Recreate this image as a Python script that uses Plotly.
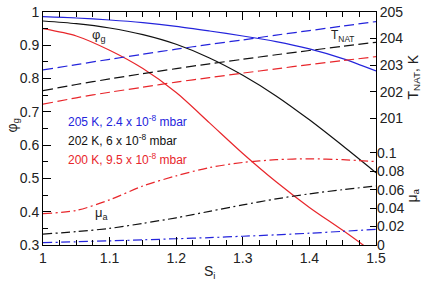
import plotly.graph_objects as go

# ---- data ----
S = [1.0, 1.05, 1.1, 1.15, 1.2, 1.25, 1.3, 1.35, 1.4, 1.45, 1.5]

# phi_g (left axis, solid)
phi_205 = [0.986, 0.982, 0.976, 0.968, 0.957, 0.943, 0.928, 0.911, 0.889, 0.860, 0.823]
phi_202 = [0.973, 0.965, 0.952, 0.932, 0.903, 0.862, 0.810, 0.748, 0.676, 0.598, 0.517]
phi_200 = [0.950, 0.928, 0.885, 0.830, 0.758, 0.667, 0.575, 0.490, 0.413, 0.344, 0.272]

# T_NAT (right axis, dashed)
T_205 = [202.82, 203.02, 203.22, 203.41, 203.60, 203.78, 203.95, 204.13, 204.30, 204.47, 204.64]
T_202 = [202.04, 202.27, 202.48, 202.68, 202.87, 203.05, 203.22, 203.39, 203.55, 203.71, 203.86]
T_200 = [201.53, 201.77, 201.98, 202.17, 202.36, 202.53, 202.70, 202.86, 203.02, 203.17, 203.32]

# mu_a (right axis, dash-dot)
mu_205 = [0.0025, 0.0035, 0.0045, 0.0056, 0.0068, 0.0080, 0.0095, 0.0110, 0.0128, 0.0148, 0.0170]
mu_202 = [0.0118, 0.0145, 0.0180, 0.0235, 0.0295, 0.0365, 0.0435, 0.0500, 0.0555, 0.0600, 0.0640]
mu_200 = [0.0340, 0.0375, 0.0490, 0.0640, 0.0750, 0.0840, 0.0895, 0.0925, 0.0935, 0.0925, 0.0905]

legend_labels = ["205 K, 2.4 x 10<sup>-8</sup> mbar",
                 "202 K, 6 x 10<sup>-8</sup> mbar",
                 "200 K, 9.5 x 10<sup>-8</sup> mbar"]

x_ticks = [1, 1.1, 1.2, 1.3, 1.4, 1.5]
y_ticks = [0.3, 0.4, 0.5, 0.6, 0.7, 0.8, 0.9, 1]
T_ticks = [201, 202, 203, 204, 205]
mu_ticks = [0, 0.02, 0.04, 0.06, 0.08, 0.1]
mu_ticktext = ["0", "0.02", "0.04", "0.06", "0.08", "0.1"]

BLUE = "#2424dc"
BLACK = "#111111"
RED = "#e8262b"
colors = [BLUE, BLACK, RED]
FONT = "Liberation Sans, Arial, sans-serif"

DASH = "10px,4.5px"
DASHDOT = "9px,3.5px,2px,3.5px"
LW = 1.2

fig = go.Figure()
for phi, T, mu, c in zip([phi_205, phi_202, phi_200],
                         [T_205, T_202, T_200],
                         [mu_205, mu_202, mu_200], colors):
    fig.add_trace(go.Scatter(x=S, y=phi, mode="lines", yaxis="y",
                             line=dict(color=c, width=LW, shape="spline", smoothing=0.8)))
    fig.add_trace(go.Scatter(x=S, y=T, mode="lines", yaxis="y2",
                             line=dict(color=c, width=LW, dash=DASH, shape="spline", smoothing=0.8)))
    fig.add_trace(go.Scatter(x=S, y=mu, mode="lines", yaxis="y3",
                             line=dict(color=c, width=LW, dash=DASHDOT, shape="spline", smoothing=0.8)))

tickfont = dict(family=FONT, size=14, color="#222")

fig.update_layout(
    width=426, height=281,
    margin=dict(l=43, r=50, t=12, b=36, autoexpand=False),
    paper_bgcolor="white", plot_bgcolor="white",
    showlegend=False,
    font=dict(family=FONT, color="#222"),
    xaxis=dict(range=[1, 1.5], tickvals=x_ticks, ticktext=[str(v) for v in x_ticks],
               ticks="inside", ticklen=8, tickwidth=1, tickcolor="black",
               showline=True, linecolor="black", linewidth=1, mirror="ticks",
               showgrid=False, zeroline=False, tickfont=tickfont, automargin=False,
               minor=dict(dtick=0.025, tick0=1, ticks="inside", ticklen=5,
                          tickcolor="black", tickwidth=1, showgrid=False)),
    yaxis=dict(range=[0.3, 1], tickvals=y_ticks, ticktext=[("%g" % v) for v in y_ticks],
               ticks="inside", ticklen=8, tickwidth=1, tickcolor="black",
               showline=True, linecolor="black", linewidth=1, automargin=False,
               showgrid=False, zeroline=False, tickfont=tickfont,
               minor=dict(dtick=0.05, tick0=0.3, ticks="inside", ticklen=5,
                          tickcolor="black", tickwidth=1, showgrid=False)),
    yaxis2=dict(range=[196.23, 205], overlaying="y", side="right", anchor="x",
                tickvals=T_ticks, ticktext=[str(v) for v in T_ticks], automargin=False,
                ticks="inside", ticklen=6, tickwidth=1, tickcolor="black",
                showline=True, linecolor="black", linewidth=1,
                showgrid=False, zeroline=False, tickfont=tickfont),
    yaxis3=dict(range=[0, 0.2527], overlaying="y", side="right", anchor="x",
                tickvals=mu_ticks, ticktext=mu_ticktext, automargin=False,
                ticks="inside", ticklen=6, tickwidth=1, tickcolor="black",
                showline=False, showgrid=False, zeroline=False, tickfont=tickfont),
)

ann = []
# in-plot labels
ann.append(dict(x=1.084, y=0.928, xref="x", yref="y", text="φ<sub>g</sub>",
                xanchor="center", yanchor="middle",
                showarrow=False, font=dict(family=FONT, size=13, color="#222")))
ann.append(dict(x=1.449, y=0.928, xref="x", yref="y", text="T<sub>NAT</sub>",
                xanchor="center", yanchor="middle",
                showarrow=False, font=dict(family=FONT, size=12, color="#222")))
ann.append(dict(x=1.089, y=0.396, xref="x", yref="y", text="μ<sub>a</sub>",
                xanchor="center", yanchor="middle",
                showarrow=False, font=dict(family=FONT, size=13, color="#222")))
# series labels
for lab, c, yv in zip(legend_labels, colors, [0.672, 0.615, 0.558]):
    ann.append(dict(x=1.034, y=yv, xref="x", yref="y", text=lab,
                    xanchor="left", yanchor="middle",
                    showarrow=False, font=dict(family=FONT, size=12, color=c)))
# axis titles (pixel centres converted to paper coordinates)
def px2paper(px, py):
    return (px - 43) / 333, (245 - py) / 233

for txt, (px, py), ang in [("φ<sub>g</sub>", (12.5, 125), -90),
                           ("T<sub>NAT</sub>, K", (413.5, 77), -90),
                           ("μ<sub>a</sub>", (412.5, 196), -90),
                           ("S<sub>i</sub>", (209.5, 271.5), 0)]:
    xp, yp = px2paper(px, py)
    ann.append(dict(x=xp, y=yp, xref="paper", yref="paper", text=txt, textangle=ang,
                    xanchor="center", yanchor="middle", showarrow=False,
                    font=dict(family=FONT, size=14, color="#222")))
fig.update_layout(annotations=ann)

fig.write_html("out.html")
